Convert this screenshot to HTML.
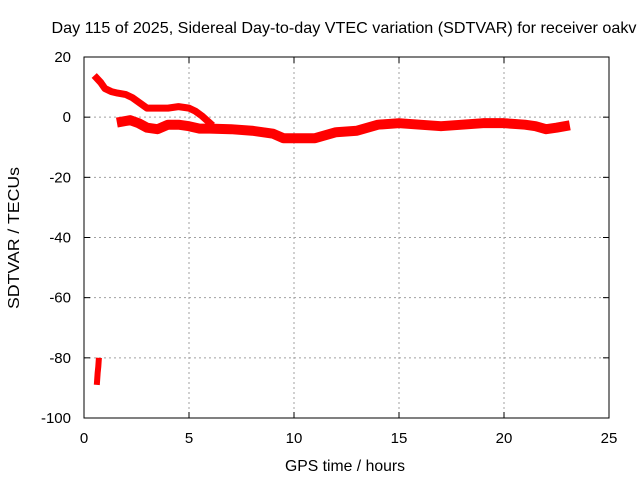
<!DOCTYPE html>
<html><head><meta charset="utf-8"><style>
body{margin:0;background:#fff;}
text{font-family:"Liberation Sans",sans-serif;font-size:15px;fill:#000;}
</style></head><body>
<svg width="640" height="480" id="c">
<rect width="640" height="480" fill="#fff"/>
<g id="grid"></g>
<rect x="84" y="57" width="525" height="361" fill="none" stroke="#000" stroke-width="1"/>
<g id="ticks"></g>
<g id="series"></g>
<text x="344" y="33" text-anchor="middle" textLength="585" lengthAdjust="spacingAndGlyphs" style="font-size:16px">Day 115 of 2025, Sidereal Day-to-day VTEC variation (SDTVAR) for receiver oakv</text>
<text x="345" y="471" text-anchor="middle" textLength="120" lengthAdjust="spacingAndGlyphs" style="font-size:16px">GPS time / hours</text>
<text transform="translate(19,238) rotate(-90)" text-anchor="middle" textLength="142" lengthAdjust="spacingAndGlyphs" style="font-size:16px">SDTVAR / TECUs</text>
</svg>
<script>
const xTicks=[0,5,10,15,20,25];
const yTicks=[20,0,-20,-40,-60,-80,-100];
const upperT=[0.6,0.8,1.0,1.3,1.6,2.0,2.3,2.6,3.0,3.5,4.0,4.5,5.0,5.3,5.6,6.0];
const upperV=[13,11.5,9.5,8.5,8,7.5,6.5,5,3,3,3,3.5,3,2,0.5,-2];
const lowerT=[1.8,2.2,2.6,3.0,3.5,4.0,4.5,5.0,5.5,6.0,7.0,8.0,9.0,9.5,10.0,10.5,11.0,11.5,12.0,13.0,14.0,15.0,16.0,17.0,18.0,19.0,20.0,21.0,21.5,22.0,22.5,22.9];
const lowerV=[-1.5,-1,-2,-3.5,-4,-2.5,-2.5,-3,-3.8,-3.8,-4,-4.5,-5.5,-7,-7,-7,-7,-6,-5,-4.5,-2.5,-2,-2.5,-3,-2.5,-2,-2,-2.5,-3,-4,-3.5,-3];
const outT=[0.62,0.65,0.68,0.7];
const outV=[-88,-85,-83,-81];
const ns="http://www.w3.org/2000/svg";
const X=t=>84+t*21, Y=v=>57+(20-v)*361/120;
const g=document.getElementById('grid'),tk=document.getElementById('ticks'),s=document.getElementById('series');
function mk(tag,at,p){const e=document.createElementNS(ns,tag);for(const k in at)e.setAttribute(k,at[k]);p.appendChild(e);return e;}
xTicks.forEach(t=>{
 if(t>0&&t<25){const l=mk('line',{x1:X(t),x2:X(t),y1:57,y2:418,stroke:'#a0a0a0','stroke-dasharray':'2,3'},g);
 
 }
 mk('line',{x1:X(t),x2:X(t),y1:418,y2:412,stroke:'#000'},tk);
 mk('line',{x1:X(t),x2:X(t),y1:57,y2:63,stroke:'#000'},tk);
 const tx=mk('text',{x:X(t),y:443,'text-anchor':'middle'},tk);tx.textContent=t;
 
 
});
yTicks.forEach(v=>{
 if(v<20&&v>-100){const l=mk('line',{x1:84,x2:609,y1:Y(v),y2:Y(v),stroke:'#a0a0a0','stroke-dasharray':'2,3'},g);
 
 }
 mk('line',{x1:84,x2:90,y1:Y(v),y2:Y(v),stroke:'#000'},tk);
 mk('line',{x1:609,x2:603,y1:Y(v),y2:Y(v),stroke:'#000'},tk);
 const tx=mk('text',{x:71,y:Y(v)+5,'text-anchor':'end'},tk);tx.textContent=v;
 
 
});
function line(T,V,name,w){
 const p=mk('polyline',{points:T.map((t,i)=>X(t)+','+Y(V[i])).join(' '),fill:'none',stroke:'#f00','stroke-width':w,'stroke-linejoin':'round','stroke-linecap':'square'},s);
 
 
}
line(upperT,upperV,'series-upper',7);
line(lowerT,lowerV,'series-lower',10);
line(outT,outV,'series-outlier',6);
</script>
</body></html>
